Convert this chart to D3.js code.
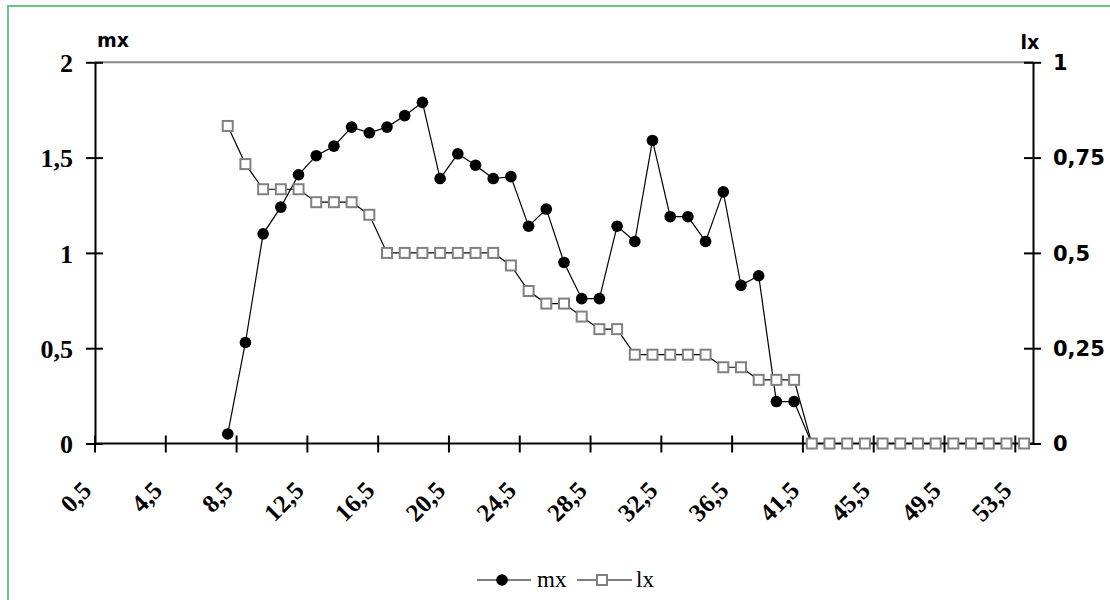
<!DOCTYPE html>
<html>
<head>
<meta charset="utf-8">
<script src="https://cdn.jsdelivr.net/npm/d3@7"></script>
<style>
  html, body { margin: 0; padding: 0; background: #fff; }
  svg { display: block; }
  .serif { font-family: "Liberation Serif", "Times New Roman", serif; }
  .sans { font-family: "DejaVu Sans", sans-serif; }
</style>
</head>
<body>
<svg id="chart" width="1110" height="600"></svg>
<script>
// ---- data ----
const categories = ["0,5","1,5","2,5","3,5","4,5","5,5","6,5","7,5","8,5","9,5",
  "10,5","11,5","12,5","13,5","14,5","15,5","16,5","17,5","18,5","19,5",
  "20,5","21,5","22,5","23,5","24,5","25,5","26,5","27,5","28,5","29,5",
  "30,5","31,5","32,5","33,5","34,5","35,5","36,5","37,5","38,5","39,5",
  "41,5","42,5","43,5","44,5","45,5","46,5","47,5","48,5","49,5","50,5",
  "51,5","52,5","53,5"];
const mxValues = [null,null,null,null,null,null,null,0.05,0.53,1.10,
  1.24,1.41,1.51,1.56,1.66,1.63,1.66,1.72,1.79,1.39,
  1.52,1.46,1.39,1.40,1.14,1.23,0.95,0.76,0.76,1.14,
  1.06,1.59,1.19,1.19,1.06,1.32,0.83,0.88,0.22,0.22,
  0,null,null,null,null,null,null,null,null,null,
  null,null,null];
const lxValues = [null,null,null,null,null,null,null,0.833,0.733,0.667,
  0.667,0.667,0.633,0.633,0.633,0.6,0.5,0.5,0.5,0.5,
  0.5,0.5,0.5,0.467,0.4,0.367,0.367,0.333,0.3,0.3,
  0.233,0.233,0.233,0.233,0.233,0.2,0.2,0.167,0.167,0.167,
  0,0,0,0,0,0,0,0,0,0,
  0,0,0];
const leftTicks = [0, 0.5, 1, 1.5, 2];
const rightTicks = [0, 0.25, 0.5, 0.75, 1];
const seriesNames = ["mx", "lx"];

// ---- layout ----
const svg = d3.select("#chart");
const L = 95, R = 1033, T = 62.3, B = 443.5;
const fmt = v => String(v).replace(".", ",");

// outer frame
svg.append("rect").attr("x", 8).attr("y", 6).attr("width", 1300).attr("height", 800)
  .attr("fill", "none").attr("stroke", "#6cc485").attr("stroke-width", 2);

const x = d3.scaleBand().domain(categories).range([L, R]).paddingInner(0).paddingOuter(0);
const cx = c => x(c) + x.bandwidth() / 2;
const yL = d3.scaleLinear().domain([0, 2]).range([B, T]);
const yR = d3.scaleLinear().domain([0, 1]).range([B, T]);

// plot area border (grey top)
svg.append("line").attr("x1", L).attr("x2", R).attr("y1", yL(2)).attr("y2", yL(2))
  .attr("stroke", "#888").attr("stroke-width", 2);

// left axis
const leftAxis = d3.axisLeft(yL).tickValues(leftTicks).tickSize(0).tickFormat(fmt);
const gL = svg.append("g").attr("transform", `translate(${L},0)`).call(leftAxis)
  .attr("font-family", null).attr("font-size", null);
gL.select(".domain").attr("stroke", "#000").attr("stroke-width", 2);
gL.selectAll(".tick line").remove();
gL.selectAll(".tick").append("line").attr("x1", -9).attr("x2", 8).attr("stroke", "#000").attr("stroke-width", 2);
gL.selectAll(".tick text").attr("x", -22).attr("dy", "0.35em").attr("class", "serif")
  .style("font-weight", "bold").style("font-size", "26px").attr("fill", "#000");

// right axis
const rightAxis = d3.axisRight(yR).tickValues(rightTicks).tickSize(0).tickFormat(fmt);
const gR = svg.append("g").attr("transform", `translate(${R},0)`).call(rightAxis)
  .attr("font-family", null).attr("font-size", null);
gR.select(".domain").attr("stroke", "#000").attr("stroke-width", 2);
gR.selectAll(".tick line").remove();
gR.selectAll(".tick").append("line").attr("x1", -9).attr("x2", 8).attr("stroke", "#000").attr("stroke-width", 2);
gR.selectAll(".tick text").attr("x", 20).attr("dy", "0.35em").attr("class", "sans")
  .style("font-weight", "bold").style("font-size", "21px").attr("fill", "#000");

// bottom axis
const xTickCats = categories.filter((c, i) => i % 4 === 0);
const gB = svg.append("g").attr("transform", `translate(0,${B})`);
gB.append("line").attr("x1", L).attr("x2", R).attr("stroke", "#000").attr("stroke-width", 2);
gB.selectAll("line.tk").data(xTickCats).join("line").attr("class", "tk")
  .attr("x1", d => x(d)).attr("x2", d => x(d)).attr("y1", -8).attr("y2", 9)
  .attr("stroke", "#000").attr("stroke-width", 2);
gB.selectAll("text.tl").data(xTickCats).join("text").attr("class", "serif")
  .attr("transform", d => `translate(${cx(d) - 11},${492 - B}) rotate(-45)`)
  .attr("text-anchor", "end")
  .style("font-weight", "bold").style("font-size", "25px")
  .text(d => d);

// axis titles
svg.append("text").attr("class", "sans").attr("x", 97).attr("y", 47).text("mx")
  .style("font-weight", "bold").style("font-size", "19px");
svg.append("text").attr("class", "sans").attr("x", 1030).attr("y", 49).attr("text-anchor", "middle").text("lx")
  .style("font-weight", "bold").style("font-size", "19px");

// series
const mxPts = categories.map((c, i) => ({c, v: mxValues[i]})).filter(d => d.v !== null);
const lxPts = categories.map((c, i) => ({c, v: lxValues[i]})).filter(d => d.v !== null);

svg.append("path").datum(mxPts)
  .attr("d", d3.line().x(d => cx(d.c)).y(d => yL(d.v)))
  .attr("fill", "none").attr("stroke", "#000").attr("stroke-width", 1.2);
svg.append("g").selectAll("circle").data(mxPts).join("circle")
  .attr("cx", d => cx(d.c)).attr("cy", d => yL(d.v)).attr("r", 5.8).attr("fill", "#000");

svg.append("path").datum(lxPts)
  .attr("d", d3.line().x(d => cx(d.c)).y(d => yR(d.v)))
  .attr("fill", "none").attr("stroke", "#000").attr("stroke-width", 1.2);
svg.append("g").selectAll("rect").data(lxPts).join("rect")
  .attr("x", d => cx(d.c) - 5).attr("y", d => yR(d.v) - 5).attr("width", 10).attr("height", 10)
  .attr("fill", "#fff").attr("stroke", "#808080").attr("stroke-width", 2);

// legend
const lg = svg.append("g");
const ly = 580;
lg.append("line").attr("x1", 477).attr("x2", 531).attr("y1", ly).attr("y2", ly).attr("stroke", "#000").attr("stroke-width", 1.2);
lg.append("circle").attr("cx", 502).attr("cy", ly).attr("r", 5.8).attr("fill", "#000");
lg.append("text").attr("class", "serif").attr("x", 537).attr("y", ly + 7).text(seriesNames[0])
  .style("font-size", "23px");
lg.append("line").attr("x1", 577).attr("x2", 632).attr("y1", ly).attr("y2", ly).attr("stroke", "#000").attr("stroke-width", 1.2);
lg.append("rect").attr("x", 597).attr("y", ly - 5).attr("width", 10).attr("height", 10)
  .attr("fill", "#fff").attr("stroke", "#808080").attr("stroke-width", 2);
lg.append("text").attr("class", "serif").attr("x", 636).attr("y", ly + 7).text(seriesNames[1])
  .style("font-size", "23px");
</script>
</body>
</html>
